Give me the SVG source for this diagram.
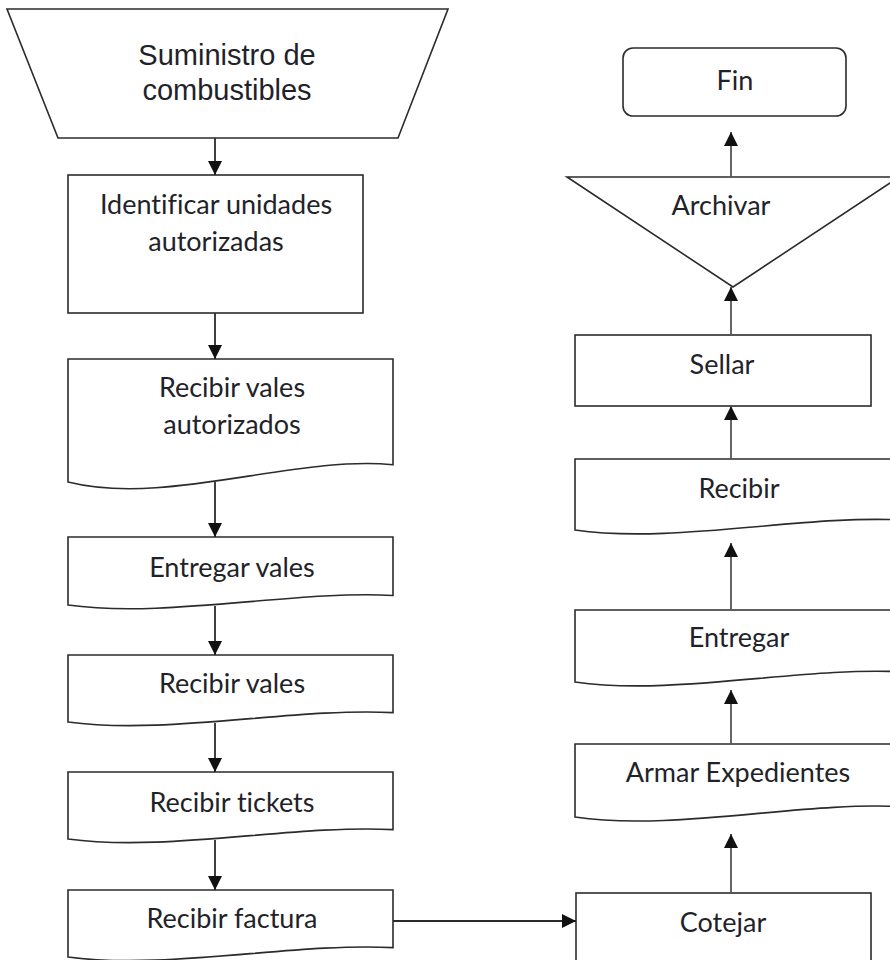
<svg xmlns="http://www.w3.org/2000/svg" width="890" height="960" viewBox="0 0 890 960">
<style>
.shape{fill:#fff;stroke:#2b2b2b;stroke-width:1.6}
.lbl{font-family:Lato,"Open Sans",sans-serif;font-size:27px;fill:#1f2329;text-anchor:middle;font-variant-ligatures:none}
.lblA{font-family:"Liberation Sans",Arial,sans-serif;font-size:29px;fill:#1f2329;text-anchor:middle}
.conn{fill:none;stroke:#2b2b2b;stroke-width:1.8}
.connR{fill:none;stroke:#555;stroke-width:1.8}
</style>
<defs>
<marker id="ah" viewBox="0 0 14 14" refX="14" refY="7" markerWidth="14" markerHeight="14" markerUnits="userSpaceOnUse" orient="auto">
<path d="M0,0 L14,7 L0,14 z" fill="#111"/>
</marker>
</defs>
<rect width="890" height="960" fill="#fff"/>

<g id="n-suministro">
<polygon class="shape" points="7,9 448,9 398,138 58,138"/>
<text class="lblA" x="227" y="65">Suministro de</text>
<text class="lblA" x="227" y="100">combustibles</text>
</g>

<g id="n-identificar">
<rect class="shape" x="68" y="175" width="295" height="138"/>
<text class="lbl" x="216" y="214">Identificar unidades</text>
<text class="lbl" x="216" y="251">autorizadas</text>
</g>

<g id="n-recibir-vales-aut">
<path class="shape" d="M68,359 H393 V464.8 C295.5,454.9 165.5,506.6 68,482 Z"/>
<text class="lbl" x="232" y="397">Recibir vales</text>
<text class="lbl" x="232" y="434">autorizados</text>
</g>

<g id="n-entregar-vales">
<path class="shape" d="M68,537 H393 V595.5 C295.5,590 165.5,618.6 68,605 Z"/>
<text class="lbl" x="232" y="577">Entregar vales</text>
</g>

<g id="n-recibir-vales">
<path class="shape" d="M68,655 H393 V712.6 C295.5,707.3 165.5,735.4 68,722 Z"/>
<text class="lbl" x="232" y="693">Recibir vales</text>
</g>

<g id="n-recibir-tickets">
<path class="shape" d="M68,772 H393 V829.6 C295.5,824.3 165.5,852.4 68,839 Z"/>
<text class="lbl" x="232" y="812">Recibir tickets</text>
</g>

<g id="n-recibir-factura">
<path class="shape" d="M68,890 H393 V947.6 C295.5,942.3 165.5,970.4 68,957 Z"/>
<text class="lbl" x="232" y="928">Recibir factura</text>
</g>

<g id="n-cotejar">
<rect class="shape" x="576" y="893" width="295" height="70"/>
<text class="lbl" x="723" y="932">Cotejar</text>
</g>

<g id="n-armar">
<path class="shape" d="M575,744 H903 V806.8 C804.6,800.9 673.4,831.6 575,817 Z"/>
<text class="lbl" x="738" y="782">Armar Expedientes</text>
</g>

<g id="n-entregar">
<path class="shape" d="M575,610 H903 V671.9 C804.6,666.2 673.4,696.4 575,682 Z"/>
<text class="lbl" x="739" y="647">Entregar</text>
</g>

<g id="n-recibir">
<path class="shape" d="M575,459 H903 V520.1 C804.6,514.4 673.4,544.2 575,530 Z"/>
<text class="lbl" x="739" y="498">Recibir</text>
</g>

<g id="n-sellar">
<rect class="shape" x="575" y="335" width="296" height="71"/>
<text class="lbl" x="722" y="374">Sellar</text>
</g>

<g id="n-archivar">
<polygon class="shape" points="567,177 899,177 733,287"/>
<text class="lbl" x="721" y="215">Archivar</text>
</g>

<g id="n-fin">
<rect class="shape" x="623" y="48" width="223" height="68" rx="10" ry="10"/>
<text class="lbl" x="735" y="90">Fin</text>
</g>

<g id="connectors">
<line class="conn" x1="215" y1="138" x2="215" y2="175" marker-end="url(#ah)"/>
<line class="conn" x1="215" y1="313" x2="215" y2="359" marker-end="url(#ah)"/>
<line class="conn" x1="215" y1="482" x2="215" y2="537" marker-end="url(#ah)"/>
<line class="conn" x1="215" y1="606" x2="215" y2="655" marker-end="url(#ah)"/>
<line class="conn" x1="215" y1="723" x2="215" y2="772" marker-end="url(#ah)"/>
<line class="conn" x1="215" y1="840" x2="215" y2="890" marker-end="url(#ah)"/>
<line class="conn" x1="393" y1="921" x2="576" y2="921" marker-end="url(#ah)"/>
<line class="connR" x1="731" y1="893" x2="731" y2="834" marker-end="url(#ah)"/>
<line class="connR" x1="731" y1="744" x2="731" y2="690" marker-end="url(#ah)"/>
<line class="connR" x1="731" y1="610" x2="731" y2="543" marker-end="url(#ah)"/>
<line class="connR" x1="731" y1="459" x2="731" y2="406" marker-end="url(#ah)"/>
<line class="connR" x1="731" y1="335" x2="731" y2="287" marker-end="url(#ah)"/>
<line class="connR" x1="731" y1="177" x2="731" y2="132" marker-end="url(#ah)"/>
</g>
</svg>
